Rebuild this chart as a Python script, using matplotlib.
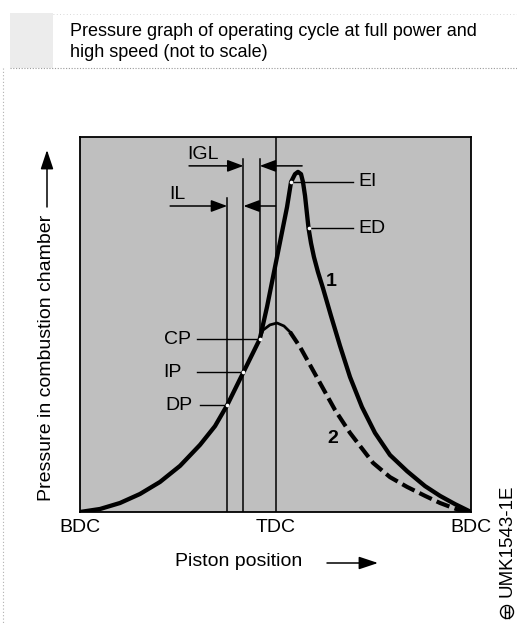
import matplotlib
matplotlib.use("Agg")
import matplotlib.pyplot as plt
from matplotlib.patches import Circle, Rectangle, FancyArrowPatch
from matplotlib.lines import Line2D
from matplotlib.transforms import IdentityTransform

plt.rcParams['font.family'] = ['Liberation Sans', 'DejaVu Sans']

# Crank position in degrees from TDC, pressure in arbitrary units (not to scale)
angle_full = [-180, -161.6, -143.2, -124.8, -106.4, -87.9, -69.5, -55.7, -44.5,
              -29.5, -14.5, -7.8, 1.4, 10.6, 14.3, 17.95, 20.7, 23.5, 25.3, 27.2,
              28.8, 30.4, 32.7, 35.4, 39.1, 43.7, 51.1, 59.4, 68.6, 79.6, 91.6,
              105.4, 121.1, 137.7, 151.5, 165.3, 180]
pressure_full = [0, 0.8, 2.4, 4.8, 8.0, 12.3, 17.9, 22.9, 28.5,
                 37.3, 46.1, 54.7, 68.0, 81.3, 88.0, 90.1, 90.7, 90.1, 88.0, 84.3,
                 80.0, 75.7, 71.7, 68.0, 64.0, 59.7, 52.3, 44.3, 36.0, 28.0, 21.1,
                 15.2, 10.9, 6.9, 4.3, 2.1, 0]

# Curve 2 branches off curve 1 at CP
angle_part = [-14.5, -11.5, -5.1, 1.4, 7.8, 13.4, 22.6, 31.8, 41.0, 54.8, 68.6,
              89.8, 105.4, 121.1, 137.7, 151.5, 163.4, 171.7, 180]
pressure_part = [46.1, 48.5, 49.9, 50.4, 49.6, 48.0, 44.0, 39.2, 34.4, 27.2, 21.1,
                 13.1, 9.3, 6.7, 4.3, 2.4, 1.1, 0.3, 0]
part_solid_end = 6  # first points of curve 2 drawn as a solid arc

# Marked events on curve 1
event_names = ['DP', 'IP', 'CP', 'EI', 'ED']
event_angle = [-44.5, -29.5, -14.5, 14.3, 30.4]
event_pressure = [28.5, 37.3, 46.1, 88.0, 75.7]

tick_pos = [-180, 0, 180]
tick_labels = ['BDC', 'TDC', 'BDC']

W, H = 517, 623
fig = plt.figure(figsize=(W / 100, H / 100), dpi=100)


def fx(px):
    return px / W


def fy(py):
    return 1 - py / H


ax = fig.add_axes([fx(80), fy(512), 391 / W, 375 / H])
ax.set_facecolor('#bfbfbf')
ax.set_xlim(-180, 180)
ax.set_ylim(0, 100)
for s in ax.spines.values():
    s.set_linewidth(1.3)
ax.set_yticks([])
ax.set_xticks(tick_pos)
ax.set_xticklabels(tick_labels, fontsize=14)
ax.tick_params(axis='x', length=0, pad=5)

# Vertical reference lines
lc = dict(color='black', lw=1.1, zorder=2)
ax.plot([event_angle[0]] * 2, [0, 83.7], **lc)
ax.plot([event_angle[1]] * 2, [0, 94.1], **lc)
ax.plot([event_angle[2]] * 2, [event_pressure[2], 94.1], **lc)
ax.axvline(0, **lc)

# Curves
ax.plot(angle_full, pressure_full, color='black', lw=3.1, solid_capstyle='butt',
        solid_joinstyle='round', zorder=4)
ax.plot(angle_part[:part_solid_end], pressure_part[:part_solid_end], color='black',
        lw=2.0, zorder=4)
ax.plot(angle_part[part_solid_end - 1:], pressure_part[part_solid_end - 1:],
        color='black', lw=3.0, dashes=(3.3, 1.3), zorder=4)

# Event points as small gaps in the curve
ax.plot(event_angle, event_pressure, 'o', color='white', ms=2.6, mec='none', zorder=5)

# Leader lines and labels
lead = dict(color='black', lw=1.0, zorder=3)
fs = 14
left_lead = [-69.5, -72.4, -72.4]
left_text = [-76.5, -86.0, -77.5]
for i in range(3):
    ax.plot([left_lead[i], event_angle[i]], [event_pressure[i]] * 2, **lead)
    ax.text(left_text[i], event_pressure[i], event_names[i], ha='right', va='center',
            fontsize=fs)
for i in (3, 4):
    ax.plot([event_angle[i], 71.4], [event_pressure[i]] * 2, **lead)
    ax.text(76, event_pressure[i], event_names[i], ha='left', va='center', fontsize=fs)

# Lag interval arrows
arr = dict(arrowstyle='-|>,head_length=0.75,head_width=0.28', color='black', lw=1.1,
           shrinkA=0, shrinkB=0, mutation_scale=13)
ax.annotate('', xy=(event_angle[1], 92.3), xytext=(-79.6, 92.3), arrowprops=arr)
ax.annotate('', xy=(event_angle[2], 92.3), xytext=(24.5, 92.3), arrowprops=arr)
ax.annotate('', xy=(event_angle[0], 81.6), xytext=(-97, 81.6), arrowprops=arr)
ax.annotate('', xy=(event_angle[1], 81.6), xytext=(0, 81.6), arrowprops=arr)
ax.text(-81, 95.3, 'IGL', ha='left', va='center', fontsize=fs)
ax.text(-97.5, 84.6, 'IL', ha='left', va='center', fontsize=fs)

# Curve numbers
ax.text(51.5, 61.5, '1', ha='center', va='center', fontsize=14, fontweight='bold')
ax.text(53, 19.7, '2', ha='center', va='center', fontsize=14, fontweight='bold')

# Title
fig.text(fx(70), fy(36), 'Pressure graph of operating cycle at full power and',
         fontsize=13, va='baseline')
fig.text(fx(70), fy(57), 'high speed (not to scale)', fontsize=13, va='baseline')

# Axis captions with arrows
fig.text(fx(47), fy(358), 'Pressure in combustion chamber', rotation=90,
         ha='center', va='center', fontsize=14)
fig.text(fx(175), fy(562), 'Piston position', ha='left', va='center', fontsize=14)
farr = dict(arrowstyle='-|>,head_length=0.9,head_width=0.3', color='black', lw=1.1,
            shrinkA=0, shrinkB=0, mutation_scale=13)
fig.add_artist(FancyArrowPatch((fx(47), fy(207)), (fx(47), fy(150)),
                               transform=fig.transFigure, **farr))
fig.add_artist(FancyArrowPatch((fx(327), fy(563)), (fx(378), fy(563)),
                               transform=fig.transFigure, **farr))

# Figure code and mark
fig.text(fx(507), fy(541), 'UMK1543-1E', rotation=90, ha='center', va='center',
         fontsize=13.5)
cx, cy = 507, H - 612
fig.add_artist(Circle((cx, cy), 6.5, transform=IdentityTransform(), fill=False,
                      lw=1.0, color='black'))
for dx in (-2.2, 2.2):
    fig.add_artist(Line2D([cx + dx, cx + dx], [cy - 5.5, cy + 5.5],
                          transform=IdentityTransform(), lw=1.0, color='black'))
fig.add_artist(Line2D([cx - 2.2, cx + 2.2], [cy, cy], transform=IdentityTransform(),
                      lw=1.0, color='black'))

# Page frame decorations
fig.add_artist(Rectangle((fx(10), fy(68)), 43 / W, 55 / H, transform=fig.transFigure,
                         facecolor='#ececec', edgecolor='none'))
fig.add_artist(Line2D([fx(10), 1], [fy(68), fy(68)], transform=fig.transFigure,
                      color='#9a9a9a', lw=0.8, ls=(0, (1, 1.5))))
fig.add_artist(Line2D([fx(53), 1], [fy(14), fy(14)], transform=fig.transFigure,
                      color='#cccccc', lw=0.6, ls=(0, (1, 3))))
fig.add_artist(Line2D([fx(3), fx(3)], [fy(68), 0], transform=fig.transFigure,
                      color='#b0b0b0', lw=0.8, ls=(0, (1, 2))))

fig.savefig('out.png', dpi=100)
